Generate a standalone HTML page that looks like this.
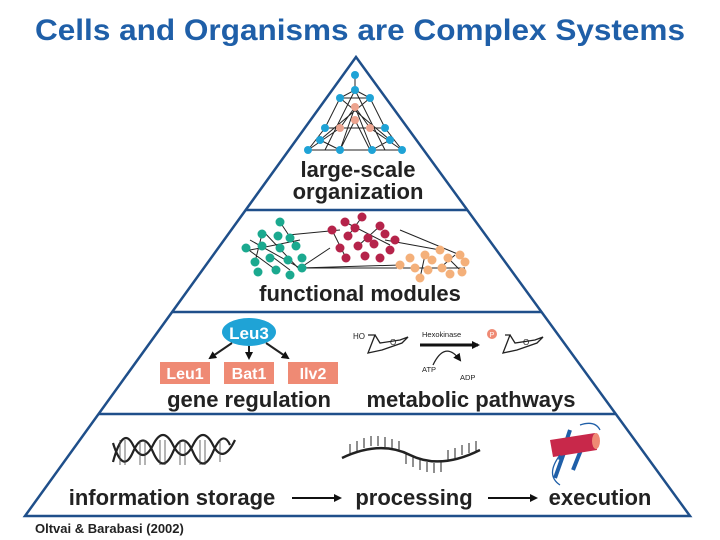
<!DOCTYPE html>
<html><head><meta charset="utf-8"><style>
body{margin:0;background:#fff;}
svg{display:block;font-family:"Liberation Sans",sans-serif;}
</style></head><body>
<svg width="720" height="540" viewBox="0 0 720 540" xmlns="http://www.w3.org/2000/svg">
<defs><marker id="ah" markerWidth="8" markerHeight="8" refX="6" refY="4" orient="auto" markerUnits="userSpaceOnUse"><path d="M0,0 L8,4 L0,8 Z" fill="#111"/></marker></defs>
<text x="360" y="40" font-size="30" font-weight="bold" fill="#1f5fa8" text-anchor="middle" textLength="650" lengthAdjust="spacingAndGlyphs">Cells and Organisms are Complex Systems</text>
<g stroke="#1f4f8a" stroke-width="2.5" fill="none">
<path d="M356,57 L25,516 L690,516 Z"/>
<line x1="246" y1="210" x2="467" y2="210"/>
<line x1="172" y1="312" x2="541" y2="312"/>
<line x1="98" y1="414" x2="615" y2="414"/>
</g>
<!-- top network -->
<g stroke="#222" stroke-width="1" fill="none">
<path d="M355,75 L355,90 L340,98 L325,128 L308,150 L340,150 L355,120 L370,150 L402,150 L385,128 L370,98 L355,90 M340,98 L370,98 M355,107 L340,128 L370,128 L355,107 M325,128 L340,128 M385,128 L370,128 M308,150 L402,150 M320,140 L340,150 M390,140 L372,150 M355,90 L325,150 M355,90 L385,150 M340,98 L390,140 M370,98 L320,140 M308,150 L340,128 M402,150 L370,128 M340,150 L355,107 M372,150 L355,107"/>
</g>
<g fill="#1fa3d6"><circle cx="355" cy="75" r="4"/><circle cx="355" cy="90" r="4"/><circle cx="340" cy="98" r="4"/><circle cx="370" cy="98" r="4"/><circle cx="325" cy="128" r="4"/><circle cx="385" cy="128" r="4"/><circle cx="320" cy="140" r="4"/><circle cx="390" cy="140" r="4"/><circle cx="308" cy="150" r="4"/><circle cx="340" cy="150" r="4"/><circle cx="372" cy="150" r="4"/><circle cx="402" cy="150" r="4"/></g>
<g fill="#eda48f"><circle cx="355" cy="107" r="4"/><circle cx="355" cy="120" r="4"/><circle cx="340" cy="128" r="4"/><circle cx="370" cy="128" r="4"/></g>
<text x="358" y="177" font-size="22" font-weight="bold" fill="#222" text-anchor="middle">large-scale</text>
<text x="358" y="199" font-size="22" font-weight="bold" fill="#222" text-anchor="middle">organization</text>
<!-- modules -->
<g stroke="#222" stroke-width="1" fill="none">
<path d="M288,235 L340,230 M300,268 L400,265 M300,268 L465,268 M300,268 L330,248 M385,240 L440,250 M300,268 L250,240 M262,230 L300,270 M250,250 L300,240 M400,230 L460,255 M270,255 L290,270 M345,222 L390,245 M440,268 L455,255 M280,222 L296,246 M262,234 L255,262 M246,248 L276,270 M362,217 L348,236 M380,226 L358,246 M332,230 L346,258 M425,255 L420,278 M448,258 L462,272"/>
</g>
<g fill="#1ba98f"><circle cx="280" cy="222" r="4.5"/><circle cx="262" cy="234" r="4.5"/><circle cx="278" cy="236" r="4.5"/><circle cx="290" cy="238" r="4.5"/><circle cx="246" cy="248" r="4.5"/><circle cx="262" cy="246" r="4.5"/><circle cx="280" cy="248" r="4.5"/><circle cx="296" cy="246" r="4.5"/><circle cx="255" cy="262" r="4.5"/><circle cx="270" cy="258" r="4.5"/><circle cx="288" cy="260" r="4.5"/><circle cx="302" cy="258" r="4.5"/><circle cx="258" cy="272" r="4.5"/><circle cx="276" cy="270" r="4.5"/><circle cx="290" cy="275" r="4.5"/><circle cx="302" cy="268" r="4.5"/></g>
<g fill="#b5234a"><circle cx="362" cy="217" r="4.5"/><circle cx="345" cy="222" r="4.5"/><circle cx="332" cy="230" r="4.5"/><circle cx="355" cy="228" r="4.5"/><circle cx="380" cy="226" r="4.5"/><circle cx="348" cy="236" r="4.5"/><circle cx="368" cy="238" r="4.5"/><circle cx="385" cy="234" r="4.5"/><circle cx="395" cy="240" r="4.5"/><circle cx="340" cy="248" r="4.5"/><circle cx="358" cy="246" r="4.5"/><circle cx="374" cy="244" r="4.5"/><circle cx="390" cy="250" r="4.5"/><circle cx="346" cy="258" r="4.5"/><circle cx="365" cy="256" r="4.5"/><circle cx="380" cy="258" r="4.5"/></g>
<g fill="#f4b07a"><circle cx="440" cy="250" r="4.5"/><circle cx="425" cy="255" r="4.5"/><circle cx="410" cy="258" r="4.5"/><circle cx="432" cy="260" r="4.5"/><circle cx="448" cy="258" r="4.5"/><circle cx="460" cy="255" r="4.5"/><circle cx="400" cy="265" r="4.5"/><circle cx="415" cy="268" r="4.5"/><circle cx="428" cy="270" r="4.5"/><circle cx="442" cy="268" r="4.5"/><circle cx="465" cy="262" r="4.5"/><circle cx="420" cy="278" r="4.5"/><circle cx="450" cy="274" r="4.5"/><circle cx="462" cy="272" r="4.5"/></g>
<text x="360" y="301" font-size="22" font-weight="bold" fill="#222" text-anchor="middle">functional modules</text>
<!-- gene regulation -->
<ellipse cx="249" cy="332" rx="27" ry="14" fill="#1fa3d6"/>
<text x="249" y="339" font-size="17" fill="#fff" text-anchor="middle" font-weight="bold">Leu3</text>
<g stroke="#222" stroke-width="2" marker-end="url(#ah)"><line x1="232" y1="343" x2="210" y2="358"/><line x1="249" y1="346" x2="249" y2="358"/><line x1="266" y1="343" x2="288" y2="358"/></g>
<g fill="#ef8a74"><rect x="160" y="362" width="50" height="22"/><rect x="224" y="362" width="50" height="22"/><rect x="288" y="362" width="50" height="22"/></g>
<g font-size="16" font-weight="bold" fill="#fff" text-anchor="middle"><text x="185" y="379">Leu1</text><text x="249" y="379">Bat1</text><text x="313" y="379">Ilv2</text></g>
<text x="249" y="407" font-size="22" font-weight="bold" fill="#222" text-anchor="middle">gene regulation</text>
<!-- metabolic -->
<g stroke="#222" stroke-width="1.3" fill="none">
<path d="M368,335 L375,335 L368,353 L382,350 L402,343 L408,337 L400,340 L380,343 L375,335"/>
<path d="M505,335 L510,335 L503,353 L517,350 L537,343 L543,337 L535,340 L515,343 L510,335"/>
<path d="M433,365 Q445,340 460,360" marker-end="url(#ah)"/>
</g>
<text x="353" y="339" font-size="8" fill="#222">HO</text><text x="390" y="345" font-size="8" fill="#222">O</text><text x="523" y="345" font-size="8" fill="#222">O</text>
<circle cx="492" cy="334" r="5" fill="#ef8a74"/><text x="492" y="337" font-size="7" fill="#fff" text-anchor="middle">P</text>
<line x1="420" y1="345" x2="478" y2="345" stroke="#111" stroke-width="3" marker-end="url(#ah)"/>
<text x="422" y="337" font-size="7.5" fill="#222">Hexokinase</text>
<text x="422" y="372" font-size="7.5" fill="#222">ATP</text><text x="460" y="380" font-size="7.5" fill="#222">ADP</text>
<text x="471" y="407" font-size="22" font-weight="bold" fill="#222" text-anchor="middle">metabolic pathways</text>
<!-- DNA -->
<g stroke="#222" stroke-width="2.2" fill="none">
<path d="M113,462 Q123,425 133,445 T153,445 T173,445 T193,445 T213,445 T235,440"/>
<path d="M113,443 Q123,475 133,452 T153,452 T173,452 T193,452 T213,452 T230,445"/>
</g>
<g stroke="#444" stroke-width="0.8"><path d="M120,440v25M125,440v25M140,440v25M145,440v25M160,440v25M165,440v25M180,440v25M185,440v25M200,440v25M205,440v25M220,440v22"/></g>
<!-- RNA -->
<path d="M342,458 Q380,440 410,455 Q440,470 480,450" stroke="#222" stroke-width="2.5" fill="none"/>
<g stroke="#222" stroke-width="1"><path d="M350,454v-10M357,451v-10M364,448v-10M371,446v-10M378,446v-10M385,447v-10M392,449v-10M399,451v-10M406,454v10M413,457v10M420,460v10M427,462v10M434,463v10M441,462v10M448,460v-10M455,458v-10M462,455v-10M469,453v-10M476,451v-10"/></g>
<!-- protein -->
<g stroke="#1f5fa8" stroke-width="4" fill="none"><line x1="560" y1="460" x2="570" y2="430"/><line x1="573" y1="470" x2="583" y2="445"/><line x1="555" y1="478" x2="565" y2="450"/></g>
<path d="M550,440 L595,433 L597,450 L553,457 Z" fill="#c8284a"/>
<ellipse cx="596" cy="441" rx="4" ry="8" fill="#ef8a74"/>
<path d="M560,455 Q545,475 560,485 M580,425 Q595,420 600,430" stroke="#1f5fa8" stroke-width="1.3" fill="none"/>
<!-- bottom labels -->
<text x="172" y="505" font-size="22" font-weight="bold" fill="#222" text-anchor="middle">information storage</text>
<text x="414" y="505" font-size="22" font-weight="bold" fill="#222" text-anchor="middle">processing</text>
<text x="600" y="505" font-size="22" font-weight="bold" fill="#222" text-anchor="middle">execution</text>
<g stroke="#111" stroke-width="2" marker-end="url(#ah)"><line x1="292" y1="498" x2="340" y2="498"/><line x1="488" y1="498" x2="536" y2="498"/></g>
<text x="35" y="533" font-size="13" font-weight="bold" fill="#222">Oltvai &amp; Barabasi (2002)</text>
</svg>
</body></html>
